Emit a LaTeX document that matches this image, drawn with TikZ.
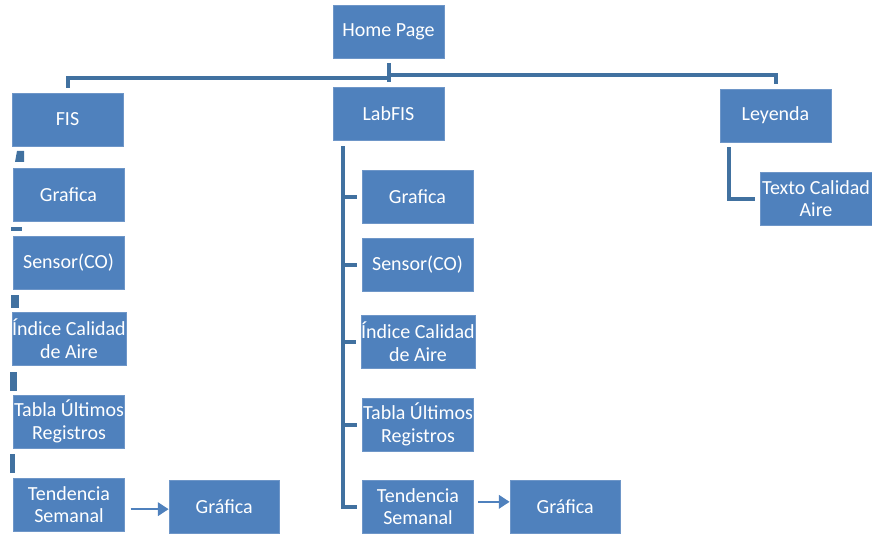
\documentclass[tikz,border=0pt]{standalone}
\usepackage{fontspec}
\setmainfont{Carlito}
\usepackage{tikz}
\usetikzlibrary{arrows.meta,positioning}
\definecolor{boxblue}{RGB}{79,129,189}
\definecolor{boxline}{RGB}{110,150,200}
\definecolor{linkblue}{RGB}{65,113,160}
\tikzstyle{page} = [draw=boxline,fill=boxblue,text=white,line width=0.4pt,minimum width=83pt,minimum height=39.5pt,inner sep=0,align=center,font=\fontsize{15}{17}\selectfont]
\tikzstyle{link} = [-,draw=linkblue,line width=3pt]
\tikzstyle{flow} = [draw=boxblue,line width=1.6pt,-{Triangle[length=8pt,width=10pt]}]

\begin{document}
\begin{tikzpicture}[x=0.75pt,y=-0.75pt]
      \useasboundingbox (0,0) rectangle (872,535);
      \node[page] (home) at (388.5,31.5) {Home Page};
      \node[page] (fis) at (67.5,119.5) {FIS};
      \node[page] (labfis) at (388.5,113.5) {LabFIS};
      \node[page] (leyenda) at (775.5,115.5) {Leyenda};
      % columna FIS
      \node[page] (graf1) at (68.5,194.5) {Grafica};
      \node[page] (sens1) at (68.5,262.5) {Sensor(CO)};
      \node[page] (ind1) at (69,338.5) {Índice Calidad\\de Aire};
      \node[page] (tab1) at (69,421.5) {Tabla Últimos\\Registros};
      \node[page] (tend1) at (69,504.5) {Tendencia\\Semanal};
      \node[page,right=33pt of tend1,yshift=-1.5pt] (gtend1) {Gráfica};
      % columna LabFIS
      \node[page] (graf2) at (417.5,196.5) {Grafica};
      \node[page] (sens2) at (417.5,265) {Sensor(CO)};
      \node[page] (ind2) at (418,341.5) {Índice Calidad\\de Aire};
      \node[page] (tab2) at (418,424.5) {Tabla Últimos\\Registros};
      \node[page] (tend2) at (418,506.5) {Tendencia\\Semanal};
      \node[page,right=27pt of tend2] (gtend2) {Gráfica};
      % leyenda
      \node[page,minimum width=84pt] (texto) at (816,198.5) {Texto Calidad\\Aire};
      % enlaces
      \coordinate (hubl) at (388,78);
      \coordinate (hubr) at (388,75);
      \draw[link,shorten <=3.75pt] (home.south) -- ++(0,24);
      \draw[link] ([yshift=3.75pt]fis.north) |- (hubl);
      \draw[link] (hubr) -| ([yshift=3.75pt]leyenda.north);
      \coordinate (trunk) at ([xshift=7.5pt,yshift=-4.5pt]labfis.south west);
      \draw[link,shorten >=3.75pt] (trunk) |- (tend2.west);
      \foreach \n in {graf2,sens2,ind2,tab2}
        \draw[link,shorten >=3.75pt] (trunk |- \n.west) -- (\n.west);
      \draw[link,shorten >=3.75pt] ([xshift=6.75pt,yshift=-4pt]leyenda.south west) |- (texto.west);
      % trozos sueltos
      \fill[linkblue] (15,162) -- (17,151) -- (24,151) -- (24,162) -- cycle;
      \fill[linkblue] (11,227) rectangle (22,231);
      \fill[linkblue] (11,295) rectangle (19,308);
      \fill[linkblue] (10,372) rectangle (17,391);
      \fill[linkblue] (10,454) rectangle (15,473);
      \draw[flow] ([xshift=4.5pt,yshift=-3.5pt]tend1.east) -- ([yshift=-2pt]gtend1.west);
      \draw[flow] ([xshift=3.5pt,yshift=3.5pt]tend2.east) -- ([yshift=3.5pt]gtend2.west);
\end{tikzpicture}
\end{document}
